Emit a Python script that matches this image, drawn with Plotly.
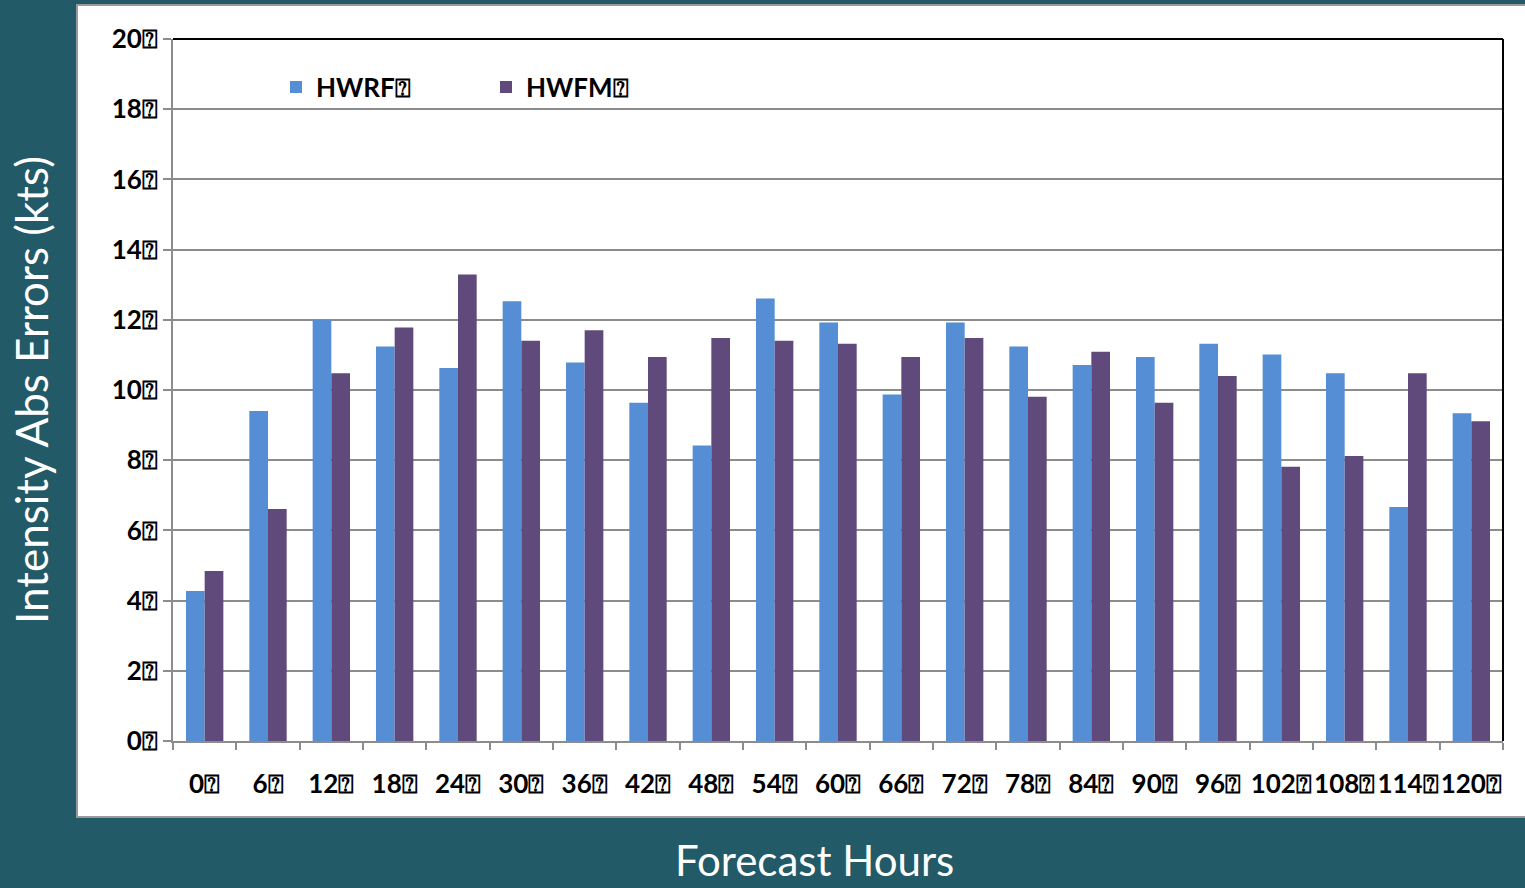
import plotly.graph_objects as go

hours = ["0", "6", "12", "18", "24", "30", "36", "42", "48", "54", "60",
         "66", "72", "78", "84", "90", "96", "102", "108", "114", "120"]
hwrf = [4.27, 9.40, 12.00, 11.24, 10.63, 12.53, 10.78, 9.64, 8.42, 12.61, 11.92,
        9.87, 11.92, 11.24, 10.71, 10.94, 11.32, 11.01, 10.48, 6.67, 9.34]
hwfm = [4.84, 6.61, 10.48, 11.78, 13.29, 11.40, 11.70, 10.94, 11.48, 11.40, 11.32,
        10.94, 11.48, 9.81, 11.09, 9.64, 10.40, 7.81, 8.12, 10.48, 9.11]
y_ticks = [0, 2, 4, 6, 8, 10, 12, 14, 16, 18, 20]
BOX = "\u2370"
x_labels = [h + BOX for h in hours]
y_labels = [str(v) + BOX for v in y_ticks]

TEAL = "#225a68"
W, H = 1525, 888
L, R, T, B = 173, 22, 39, 147
PW, PH = W - L - R, H - T - B


def px(x):
    return (x - L) / PW


def py(y):
    return (H - B - y) / PH


fig = go.Figure()
fig.add_trace(go.Bar(x=x_labels, y=hwrf, name="HWRF" + BOX,
                     marker=dict(color="#558ed5", line=dict(width=0))))
fig.add_trace(go.Bar(x=x_labels, y=hwfm, name="HWFM" + BOX,
                     marker=dict(color="#604a7b", line=dict(width=0))))

tick_font = dict(family="Lato, 'Open Sans', sans-serif", size=26, color="black", weight="bold")

fig.update_layout(
    width=W, height=H,
    margin=dict(l=L, r=R, t=T, b=B, pad=0),
    paper_bgcolor=TEAL,
    plot_bgcolor="white",
    barmode="group",
    bargap=0.41,
    bargroupgap=0,
    showlegend=True,
    legend=dict(orientation="h", x=px(276), y=py(87), xanchor="left", yanchor="middle",
                font=tick_font, bgcolor="rgba(0,0,0,0)", entrywidth=165,
                entrywidthmode="pixels", itemwidth=30),
    xaxis=dict(type="category", tickmode="array", tickvals=x_labels, ticktext=x_labels,
               tickson="boundaries", ticks="outside", ticklen=7, tickwidth=2,
               tickcolor="#8c8c8c", showline=True, linecolor="#8c8c8c", linewidth=2,
               showgrid=False, tickfont=tick_font, ticklabelstandoff=19, tickangle=0,
               range=[-0.5, len(hours) - 0.5]),
    yaxis=dict(range=[0, 20], tickmode="array", tickvals=y_ticks, ticktext=y_labels,
               ticks="outside", ticklen=8, tickwidth=2, tickcolor="#8c8c8c",
               showline=True, linecolor="#8c8c8c", linewidth=2,
               showgrid=True, gridcolor="#8c8c8c", gridwidth=2,
               zeroline=False, tickfont=tick_font, ticklabelstandoff=0),
    shapes=[
        dict(type="rect", xref="paper", yref="paper", x0=px(77), x1=px(1527),
             y0=py(817), y1=py(5), fillcolor="white",
             line=dict(color="#9a9a9a", width=2), layer="below"),
        dict(type="line", xref="paper", yref="paper", x0=0, x1=1, y0=1, y1=1,
             line=dict(color="black", width=2)),
        dict(type="line", xref="paper", yref="paper", x0=1, x1=1, y0=0, y1=1,
             line=dict(color="black", width=2)),
    ],
    annotations=[
        dict(text="Intensity Abs Errors (kts)", xref="paper", yref="paper",
             x=px(31), y=py(390), textangle=-90, showarrow=False,
             xanchor="center", yanchor="middle",
             font=dict(family="Lato, 'Open Sans', sans-serif", size=44, color="white")),
        dict(text="Forecast Hours", xref="paper", yref="paper",
             x=px(814), y=py(860), showarrow=False, xanchor="center", yanchor="middle",
             font=dict(family="Lato, 'Open Sans', sans-serif", size=42, color="white")),
    ],
)

fig.write_html("out.html", config={"displayModeBar": False},
               post_script="document.body.style.margin='0';document.body.style.overflow='hidden';")
